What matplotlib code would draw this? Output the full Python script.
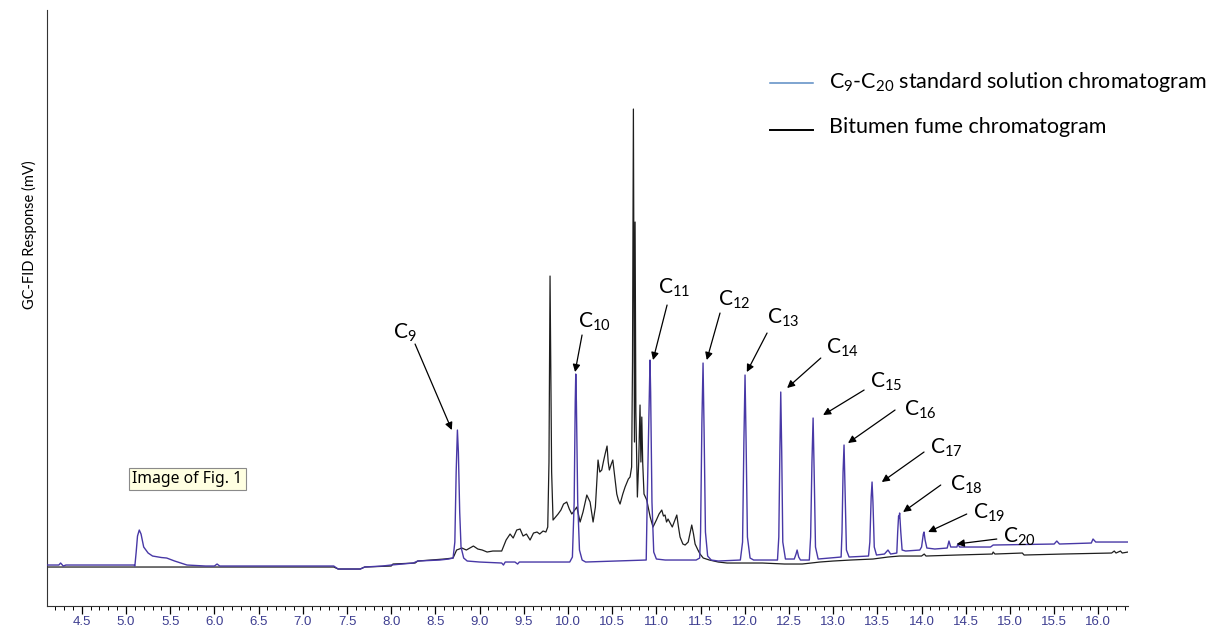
import numpy as np
import matplotlib
matplotlib.use("Agg")
import matplotlib.pyplot as plt

plt.rcParams['font.family'] = ['Lato', 'DejaVu Sans']
plt.rcParams['mathtext.fontset'] = 'custom'
plt.rcParams['mathtext.rm'] = 'Lato'
plt.rcParams['mathtext.it'] = 'Lato'

# C9-C20 standard solution trace (retention time in min, response)
std_t = [4.11, 4.24, 4.26, 4.29, 4.32, 5.09, 5.10, 5.115, 5.13, 5.15, 5.17, 5.20, 5.25, 5.30,
         5.40, 5.46, 5.52, 5.55, 5.69, 5.90, 6.00, 6.03, 6.06, 7.35, 7.40, 7.65, 7.70, 7.90,
         8.00, 8.25, 8.30, 8.55, 8.65, 8.70, 8.72, 8.735, 8.749, 8.76, 8.775, 8.79, 8.82, 8.86,
         9.00, 9.25, 9.27, 9.29, 9.40, 9.43, 9.45, 10.02, 10.05, 10.07, 10.082, 10.088, 10.095,
         10.11, 10.13, 10.16, 10.20, 10.885, 10.895, 10.91, 10.928, 10.935, 10.95, 10.97, 11.00,
         11.10, 11.45, 11.49, 11.50, 11.515, 11.528, 11.54, 11.555, 11.58, 11.62, 11.70, 11.95,
         11.975, 11.99, 12.003, 12.015, 12.03, 12.06, 12.10, 12.37, 12.385, 12.397, 12.407,
         12.418, 12.43, 12.46, 12.56, 12.58, 12.592, 12.61, 12.63, 12.73, 12.745, 12.76, 12.773,
         12.785, 12.80, 12.83, 13.09, 13.10, 13.112, 13.123, 13.135, 13.15, 13.18, 13.40, 13.415,
         13.43, 13.44, 13.45, 13.465, 13.49, 13.58, 13.62, 13.65, 13.72, 13.73, 13.74, 13.745,
         13.752, 13.765, 13.78, 13.82, 13.98, 14.00, 14.02, 14.028, 14.04, 14.06, 14.15, 14.29,
         14.31, 14.33, 14.40, 14.41, 14.43, 14.78, 14.81, 15.50, 15.53, 15.56, 15.92, 15.94,
         15.97, 16.336]
std_y = [-3, -3, -1, -4, -3, -3, -4, 10, 26, 32, 28, 15, 9, 6,
         4.5, 4, 2, 1, -3, -4, -4, -2, -4, -4, -7, -7, -5, -4,
         -3, -1, 1, 2, 3, 4, 20, 90, 132, 110, 50, 15, 4, 1,
         0, -1, -3, 0, 0, -2, 0, 0, 5, 60, 160, 188, 160,
         60, 12, 2, 0, 2, 55, 120, 202, 170, 60, 10, 3,
         2, 2, 4, 30, 140, 199, 130, 30, 6, 2, 1, 2,
         20, 120, 187, 120, 25, 4, 2, 2, 25, 110, 170,
         110, 20, 3, 3, 8, 12, 5, 2, 2, 25, 100, 144,
         90, 15, 3, 5, 30, 90, 117, 70, 12, 5, 6, 20,
         65, 80, 60, 15, 7, 8, 12, 8, 9, 30, 46, 44,
         49, 30, 12, 11, 12, 15, 28, 30, 22, 14, 13, 14,
         21, 15, 15, 18, 15, 15, 17, 18, 21, 18, 19, 23,
         20, 20]

# bitumen fume trace
fume_t = [4.11, 6.03, 7.35, 7.40, 7.65, 7.70, 8.00, 8.02, 8.27, 8.30, 8.60, 8.70, 8.72, 8.74,
          8.80, 8.85, 8.93, 8.98, 9.03, 9.085, 9.15, 9.25, 9.30, 9.345, 9.38, 9.42, 9.458,
          9.492, 9.53, 9.571, 9.61, 9.65, 9.68, 9.718, 9.75, 9.771, 9.785, 9.797, 9.805, 9.815,
          9.831, 9.86, 9.888, 9.92, 9.95, 9.986, 10.015, 10.043, 10.06, 10.10, 10.137, 10.17,
          10.213, 10.25, 10.284, 10.31, 10.34, 10.36, 10.382, 10.40, 10.42, 10.442, 10.455,
          10.468, 10.49, 10.507, 10.53, 10.552, 10.57, 10.589, 10.62, 10.646, 10.683, 10.702,
          10.72, 10.73, 10.74, 10.748, 10.752, 10.759, 10.768, 10.785, 10.80, 10.815, 10.825,
          10.835, 10.845, 10.86, 10.891, 10.93, 10.962, 11.00, 11.03, 11.061, 11.08, 11.098,
          11.115, 11.132, 11.18, 11.231, 11.25, 11.268, 11.30, 11.325, 11.36, 11.40, 11.42,
          11.438, 11.47, 11.494, 11.53, 11.60, 11.70, 11.80, 12.20, 12.45, 12.65, 12.85, 13.00,
          13.20, 13.45, 13.62, 13.75, 14.00, 14.03, 14.05, 14.40, 14.80, 14.81, 14.83, 15.14,
          15.16, 15.60, 16.15, 16.18, 16.20, 16.25, 16.27, 16.336]
fume_y = [-5, -5, -5, -7, -7, -5, -4, -2, -1, 1, 3, 4, 8, 12,
          14, 12, 16, 13, 12, 10, 11, 11, 22, 28, 24, 32, 33,
          26, 28, 22, 29, 30, 28, 31, 30, 35, 100, 286, 200, 90,
          42, 45, 48, 52, 58, 60, 53, 48, 50, 55, 40, 50,
          67, 60, 40, 55, 102, 90, 92, 100, 108, 116, 100,
          92, 98, 102, 85, 68, 62, 58, 68, 75, 83, 85,
          95, 200, 453, 250, 120, 340, 150, 65, 100, 157, 100,
          145, 100, 68, 62, 45, 35, 42, 48, 52, 46, 47,
          40, 43, 35, 47, 35, 25, 18, 17, 20, 37, 28,
          18, 12, 8, 4, 2, 0, -1, -1, -2, -2, 0, 1,
          2, 3, 5, 6, 6, 8, 6, 7, 8, 10, 8, 9,
          7, 8, 9, 11, 9, 11, 9, 10]

# peak labels: (name, label pos, arrow tail, arrow tip)
peak_names = ['9', '10', '11', '12', '13', '14', '15', '16', '17', '18', '19', '20']
label_pos = [(8.02, 229), (10.115, 240), (11.019, 274), (11.698, 262), (12.252, 244), (12.92, 214),
             (13.417, 180), (13.802, 152), (14.096, 114), (14.322, 77), (14.579, 49), (14.922, 25)]
arrow_tail = [(8.27, 218), (10.159, 227), (11.121, 257), (11.72, 249), (12.252, 229), (12.86, 204),
              (13.35, 172), (13.70, 152), (14.028, 110), (14.217, 77), (14.511, 48), (14.851, 23)]
arrow_tip = [(8.686, 132), (10.08, 190), (10.962, 202), (11.57, 202), (12.023, 190), (12.479, 174),
             (12.886, 147), (13.168, 119), (13.55, 80), (13.791, 50), (14.074, 30), (14.398, 18)]

fig = plt.figure(figsize=(12.14, 6.28), dpi=100)
ax = fig.add_axes([0.039, 0.035, 0.8902, 0.949])

ax.plot(fume_t, fume_y, color='#1e1e1e', lw=0.9, zorder=2)
ax.plot(std_t, std_y, color='#4838a6', lw=1.0, zorder=3)

for name, lp, tail, tip in zip(peak_names, label_pos, arrow_tail, arrow_tip):
    ax.text(lp[0], lp[1], r'C$_{\mathrm{' + name + '}}$', fontsize=15, ha='left', va='center')
    ax.annotate('', xy=tip, xytext=tail,
                arrowprops=dict(arrowstyle='-|>', color='black', lw=0.9,
                                mutation_scale=11, shrinkA=0, shrinkB=0))

ax.set_xlim(4.11, 16.336)
ax.set_ylim(-44, 552)
ax.spines['top'].set_visible(False)
ax.spines['right'].set_visible(False)
ax.spines['left'].set_color('#333333')
ax.spines['bottom'].set_color('#333333')
ax.set_yticks([])
ax.set_xticks(np.arange(4.5, 16.01, 0.5))
ax.set_xticks(np.arange(4.2, 16.31, 0.1), minor=True)
ax.set_xticklabels([f'{v:.1f}' for v in np.arange(4.5, 16.01, 0.5)],
                   fontsize=9.5, color='#3d3d90', family='Liberation Sans')
ax.tick_params(axis='x', which='major', length=5.5, width=0.9, direction='out', pad=2)
ax.tick_params(axis='x', which='minor', length=3, width=0.7, direction='out')

# legend drawn by hand
fig.add_artist(plt.Line2D([770 / 1214, 813 / 1214], [1 - 83 / 628, 1 - 83 / 628],
                          color='#5b8cc4', lw=1.1))
fig.add_artist(plt.Line2D([770 / 1214, 813 / 1214], [1 - 130 / 628, 1 - 130 / 628],
                          color='black', lw=1.4))
fig.text(829 / 1214, 1 - 82 / 628, r'C$_{\mathrm{9}}$-C$_{\mathrm{20}}$ standard solution chromatogram',
         fontsize=15.5, ha='left', va='center')
fig.text(829 / 1214, 1 - 127 / 628, 'Bitumen fume chromatogram', fontsize=15.5, ha='left', va='center')

fig.text(29 / 1214, 1 - 235 / 628, 'GC-FID Response (mV)', rotation=90, fontsize=10.5,
         ha='center', va='center')

fig.text(132 / 1214, 1 - 479 / 628, 'Image of Fig. 1', fontsize=11.3, family='Noto Sans',
         ha='left', va='center',
         bbox=dict(boxstyle='square,pad=0.22', fc='#ffffe1', ec='#8a8a8a', lw=0.8))

fig.savefig('out.png', dpi=100)
